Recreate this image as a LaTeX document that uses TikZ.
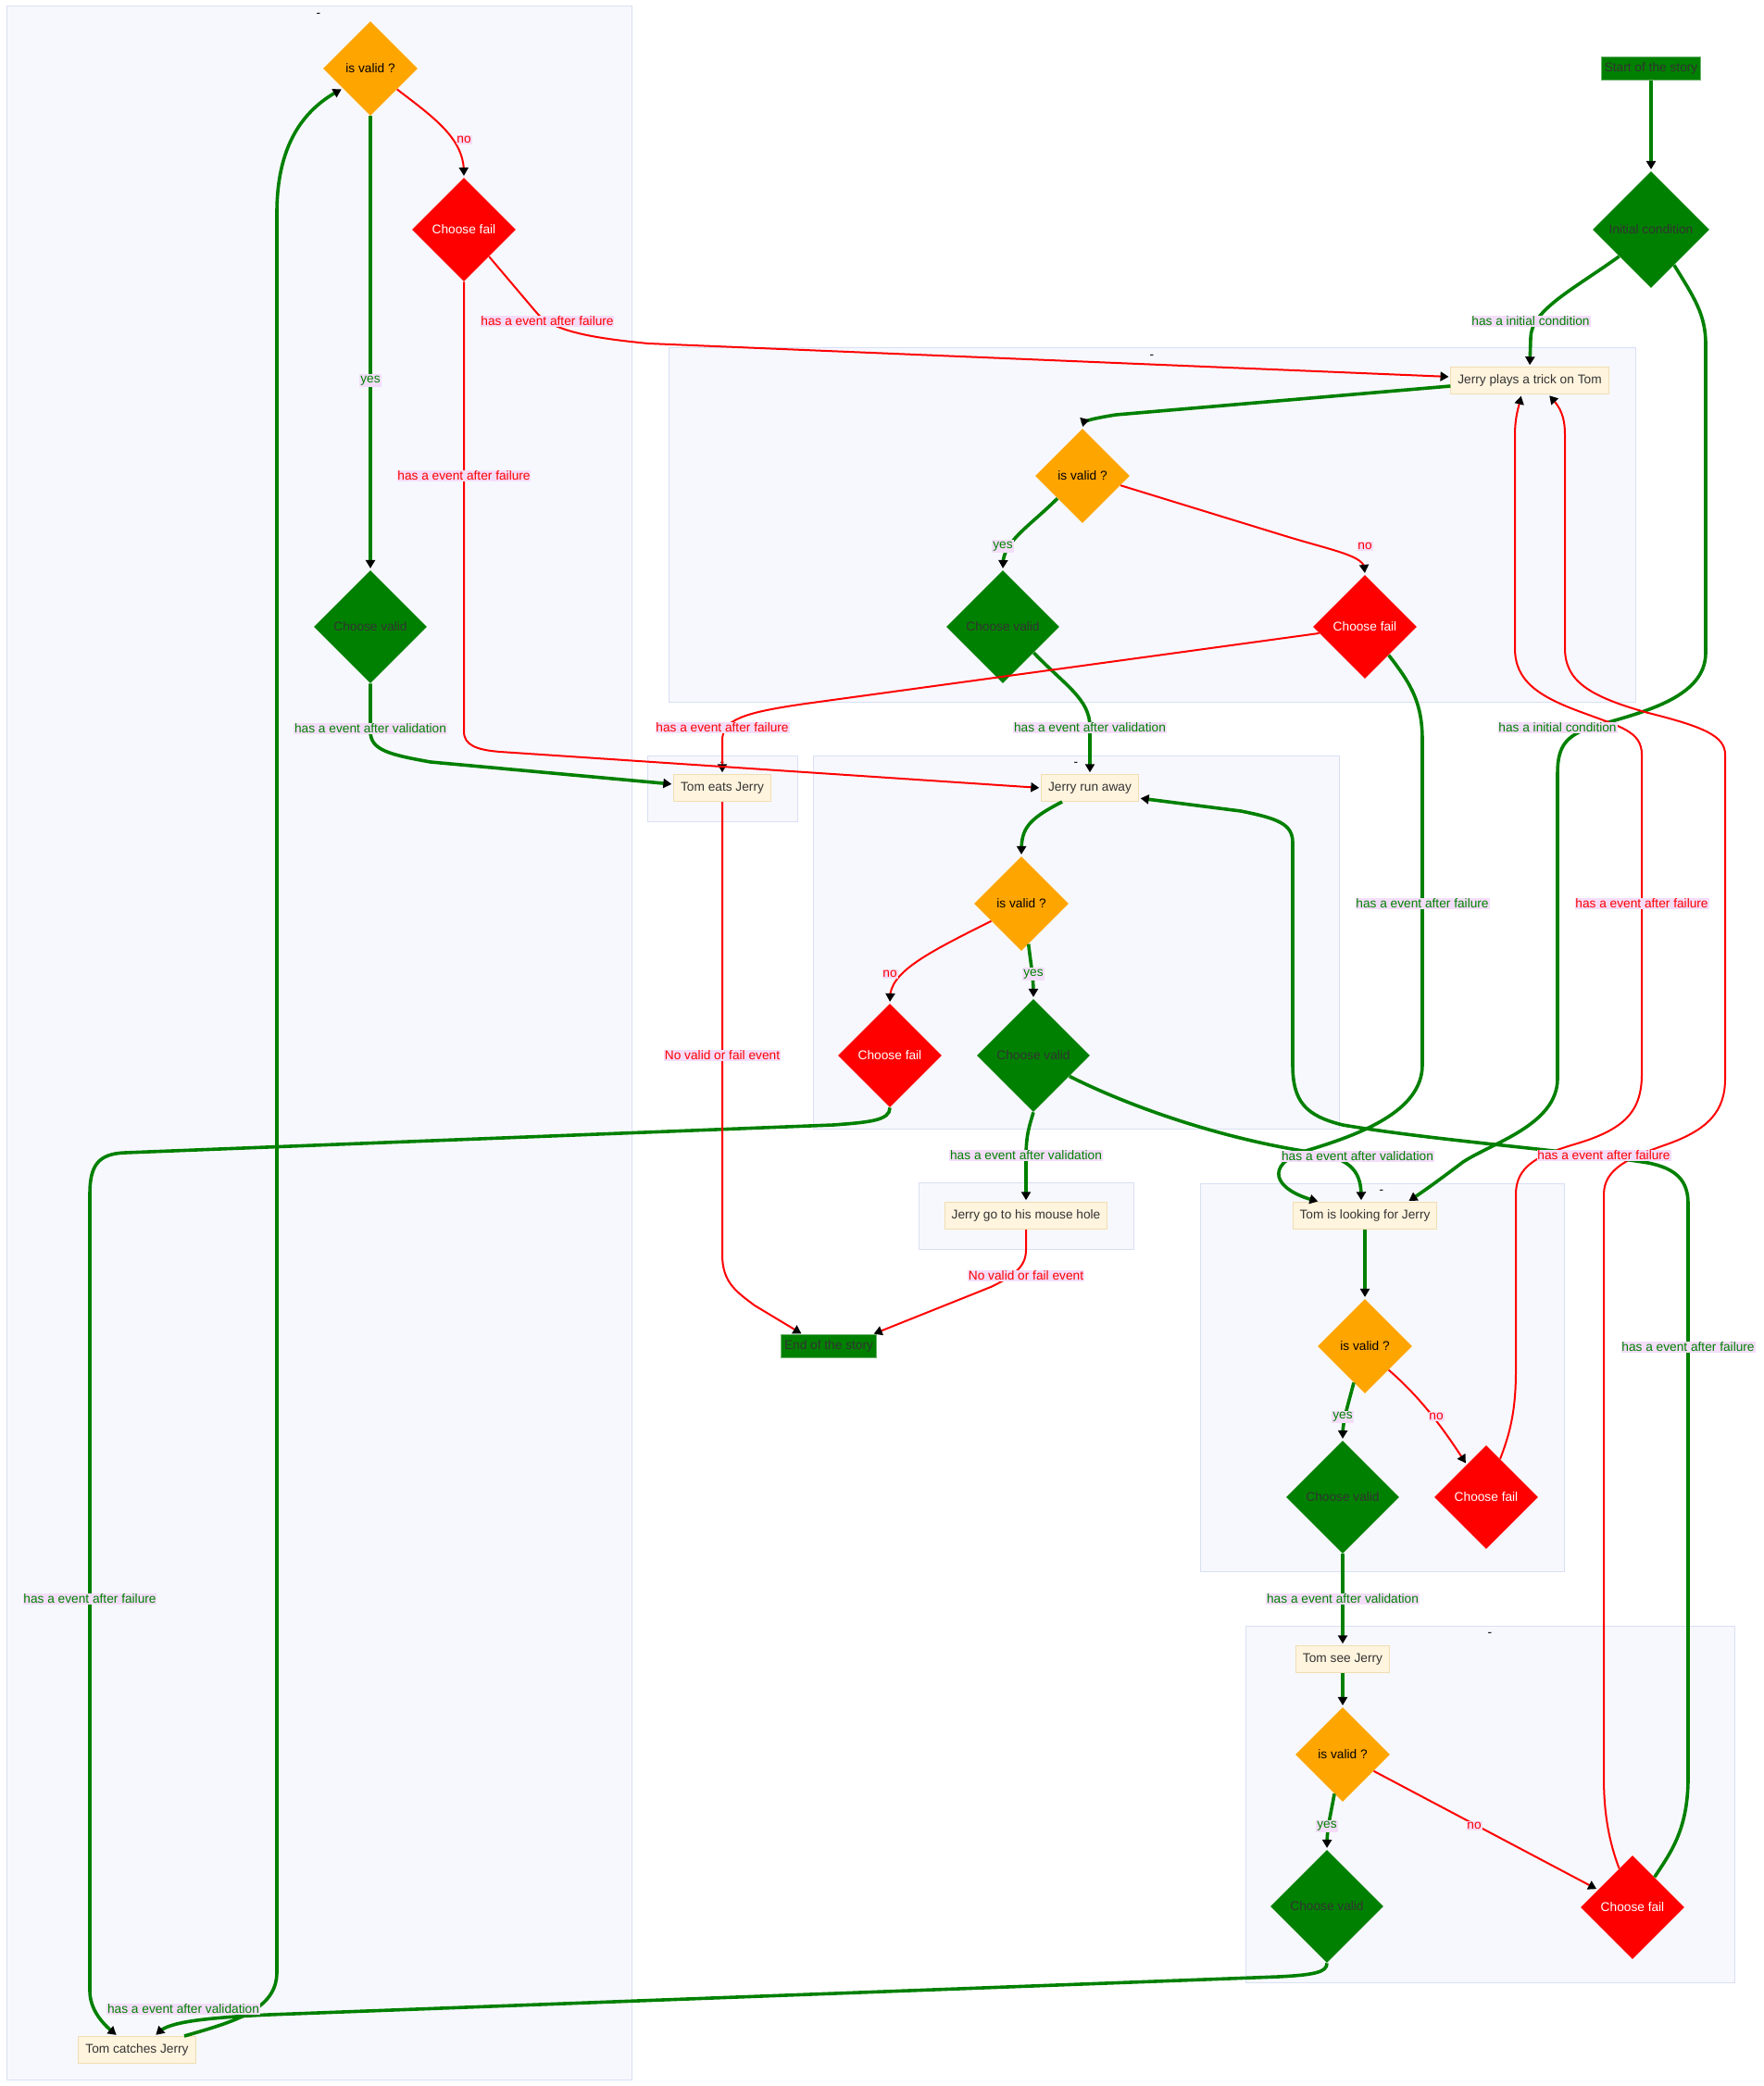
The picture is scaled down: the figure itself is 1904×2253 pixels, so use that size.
\documentclass[tikz,border=0pt]{standalone}
\usepackage{fontspec}
\setmainfont{Liberation Sans}
\usepackage{tikz}
\usetikzlibrary{calc,decorations.markings}
\usetikzlibrary{shapes.geometric}
\usetikzlibrary{arrows.meta}

\definecolor{okgreen}{RGB}{0,128,0}
\definecolor{nored}{RGB}{255,0,0}
\definecolor{askorange}{RGB}{255,165,0}
\definecolor{boxfill}{RGB}{255,244,222}
\definecolor{boxline}{RGB}{240,222,178}
\definecolor{clfill}{RGB}{247,248,253}
\definecolor{clline}{RGB}{216,224,243}
\definecolor{labfill}{RGB}{244,221,250}
\definecolor{darktext}{RGB}{51,51,51}
\definecolor{storyline}{RGB}{110,180,110}

\tikzset{
  every node/.style={font=\fontsize{7.8}{9}\selectfont},
  event/.style={draw=boxline,fill=boxfill,text=darktext,line width=0.02cm,inner xsep=0.15cm,minimum height=0.58cm},
  story/.style={draw=storyline,fill=okgreen,text=darktext,line width=0.02cm,inner xsep=0.07cm,minimum height=0.46cm},
  isvalid/.style={diamond,fill=askorange,text=black,inner sep=0pt,minimum width=2.04cm,minimum height=2.04cm},
  cfail/.style={diamond,fill=nored,text=white,inner sep=0pt,minimum width=2.24cm,minimum height=2.24cm},
  cvalid/.style={diamond,fill=okgreen,text=darktext,inner sep=0pt,minimum width=2.44cm,minimum height=2.44cm},
  initial/.style={diamond,fill=okgreen,text=darktext,inner sep=0pt,minimum width=2.52cm,minimum height=2.52cm},
  cluster/.style={fill=clfill,draw=clline,line width=0.02cm},
  ctitle/.style={text=black,inner sep=0pt},
  vlab/.style={fill=labfill,text=okgreen,inner xsep=0.5pt,inner ysep=0.8pt},
  flab/.style={fill=labfill,text=nored,inner xsep=0.5pt,inner ysep=0.8pt},
  valid/.style={draw=okgreen,line width=0.072cm},
  fail/.style={draw=nored,line width=0.04cm},
  arrowend/.style={shorten >=3pt,postaction={decorate},
    decoration={markings,mark=at position -1pt with {\arrow[black]{Triangle[length=5.1pt,width=5.7pt]}}}}
}

\begin{document}
\begin{tikzpicture}[x=0.02cm,y=-0.02cm]
\path[use as bounding box,fill=white] (0,0) rectangle (1904,2253);

% subgraphs
\draw[cluster] (7,7) rectangle (682,2246);
\draw[cluster] (722,376) rectangle (1766,758);
\draw[cluster] (699,816) rectangle (861,887);
\draw[cluster] (878,816) rectangle (1446,1219);
\draw[cluster] (992,1277) rectangle (1224,1349);
\draw[cluster] (1296,1278) rectangle (1689,1697);
\draw[cluster] (1345,1756) rectangle (1873,2141);
\node[ctitle] (tA) at (344,16) {-};
\node[ctitle] (tB) at (1244,385) {-};
\node[ctitle] (tC) at (780,825) {-};
\node[ctitle] (tD) at (1162,825) {-};
\node[ctitle] (tE) at (1108,1286) {-};
\node[ctitle] (tF) at (1492,1287) {-};
\node[ctitle] (tG) at (1609,1765) {-};

% nodes
\node[story] (start) at (1783,74) {Start of the story};
\node[initial] (init) at (1783,248) {Initial condition};
\node[event] (trick) at (1652,411) {Jerry plays a trick on Tom};
\node[isvalid] (ivB) at (1169,514) {is valid ?};
\node[cvalid] (cvB) at (1083,677) {Choose valid};
\node[cfail] (cfB) at (1474,677) {Choose fail};
\node[event] (eats) at (780,851) {Tom eats Jerry};
\node[event] (run) at (1177,851) {Jerry run away};
\node[isvalid] (ivD) at (1103,976) {is valid ?};
\node[cfail] (cfD) at (961,1140) {Choose fail};
\node[cvalid] (cvD) at (1116,1140) {Choose valid};
\node[event] (hole) at (1108,1313) {Jerry go to his mouse hole};
\node[story] (endst) at (895,1454) {End of the story};
\node[event] (look) at (1474,1313) {Tom is looking for Jerry};
\node[isvalid] (ivF) at (1474,1454) {is valid ?};
\node[cvalid] (cvF) at (1450,1617) {Choose valid};
\node[cfail] (cfF) at (1605,1617) {Choose fail};
\node[event] (see) at (1450,1792) {Tom see Jerry};
\node[isvalid] (ivG) at (1450,1895) {is valid ?};
\node[cvalid] (cvG) at (1433,2059) {Choose valid};
\node[cfail] (cfG) at (1763,2060) {Choose fail};
\node[isvalid] (ivA) at (400,74) {is valid ?};
\node[cfail] (cfA) at (501,248) {Choose fail};
\node[cvalid] (cvA) at (400,677) {Choose valid};
\node[event] (catch) at (148,2214) {Tom catches Jerry};

% connectors
\draw[valid,arrowend] (start.south) -- (init.north);
\draw[valid,arrowend] (init.220) .. controls (1700,312) and (1653,335) .. (1653,365) -- (trick.north);
\draw[valid,arrowend] (init.-57) .. controls (1830,322) and (1842,340) .. (1842,372) -- (1842,705)
  .. controls (1842,755) and (1770,770) .. (1720,785) .. controls (1692,794) and (1682,805) .. (1682,835)
  -- (1682,1165) .. controls (1682,1215) and (1610,1235) .. (1580,1255)
  .. controls (1560,1270) and (1540,1285) .. ($(look.north)+(46,0)$);
\draw[valid,arrowend] ($(trick.west)+(0,6)$) -- (1205,448) .. controls (1180,452) and (1169,455) .. (ivB.north);
\draw[valid,arrowend] (ivB.222) .. controls (1110,570) and (1083,585) .. (cvB.north);
\draw[fail,arrowend] (ivB.-14) -- (1385,578) .. controls (1440,595) and (1474,600) .. (cfB.north);
\draw[valid,arrowend] (cvB.-40) .. controls (1150,740) and (1177,755) .. (1177,785) -- (run.north);
\draw[fail,arrowend] (cfB.188) -- (870,760) .. controls (800,770) and (780,778) .. (780,800) -- (eats.north);
\draw[valid,arrowend] (cfB.-50) .. controls (1525,740) and (1536,760) .. (1536,800) -- (1536,1150)
  .. controls (1536,1200) and (1470,1225) .. (1410,1243)
  .. controls (1365,1258) and (1375,1285) .. ($(look.north)+(-49,0)$);
\draw[valid,arrowend] (cvD.-30) .. controls (1230,1200) and (1330,1232) .. (1420,1245)
  .. controls (1462,1252) and (1470,1268) .. ($(look.north)+(-4,0)$);
\draw[valid,arrowend] ($(run.south)+(-30,0)$) .. controls (1110,885) and (1103,895) .. (ivD.north);
\draw[fail,arrowend] (ivD.210) .. controls (1000,1030) and (961,1050) .. (cfD.north);
\draw[valid,arrowend] (ivD.-80) .. controls (1113,1040) and (1116,1055) .. (cvD.north);
\draw[valid,arrowend] (cfD.south) .. controls (961,1210) and (940,1212) .. (900,1215) -- (135,1245)
  .. controls (105,1246) and (97,1260) .. (97,1290) -- (97,2150)
  .. controls (97,2170) and (110,2185) .. ($(catch.north)+(-21,0)$);
\draw[valid,arrowend] (cvD.south) .. controls (1112,1215) and (1108,1225) .. (1108,1250) -- (hole.north);
\draw[fail,arrowend] (eats.south) -- (780,1355) .. controls (780,1385) and (795,1395) .. (815,1410) -- ($(endst.north)+(-28,0)$);
\draw[fail,arrowend] (hole.south) -- (1108,1350) .. controls (1108,1368) and (1095,1378) .. (1070,1390) -- ($(endst.north)+(47,0)$);
\draw[valid,arrowend] (look.south) -- (ivF.north);
\draw[valid,arrowend] (ivF.253) .. controls (1455,1520) and (1450,1535) .. (cvF.north);
\draw[fail,arrowend] (ivF.-45) .. controls (1535,1510) and (1560,1545) .. (cfF.121);
\draw[valid,arrowend] (cvF.south) -- (see.north);
\draw[valid,arrowend] (see.south) -- (ivG.north);
\draw[valid,arrowend] (ivG.258) .. controls (1437,1960) and (1433,1975) .. (cvG.north);
\draw[fail,arrowend] (ivG.-28) -- (cfG.153);
\draw[valid,arrowend] (cvG.south) .. controls (1433,2130) and (1420,2133) .. (1380,2135) -- (290,2176)
  .. controls (205,2180) and (180,2186) .. ($(catch.north)+(19,0)$);
\draw[valid,arrowend] ($(catch.north)+(51,0)$) .. controls (255,2183) and (299,2170) .. (299,2130) -- (299,230)
  .. controls (299,160) and (325,120) .. (ivA.216);
\draw[valid,arrowend] (ivA.south) -- (cvA.north);
\draw[fail,arrowend] (ivA.-38) .. controls (470,128) and (501,150) .. (cfA.north);
\draw[fail,arrowend] (cfA.-47) -- (578,336) .. controls (595,358) and (640,365) .. (700,371) -- ($(trick.west)+(0,-4)$);
\draw[fail,arrowend] (cfA.south) -- (501,790) .. controls (501,805) and (515,810) .. (540,812) -- (run.west);
\draw[valid,arrowend] (cvA.south) -- (400,790) .. controls (400,810) and (420,815) .. (465,823) -- ($(eats.west)+(0,-4)$);
\draw[fail,arrowend] (cfG.109) .. controls (1738,1990) and (1732,1960) .. (1732,1920) -- (1732,1290)
  .. controls (1732,1262) and (1760,1250) .. (1800,1236) .. controls (1845,1220) and (1863,1200) .. (1863,1165)
  -- (1863,815) .. controls (1863,795) and (1840,785) .. (1780,770)
  .. controls (1715,752) and (1690,735) .. (1690,700) -- (1690,470)
  .. controls (1690,450) and (1685,440) .. ($(trick.south)+(20,0)$);
\draw[fail,arrowend] (cfF.70) .. controls (1632,1545) and (1637,1520) .. (1637,1480) -- (1637,1290)
  .. controls (1637,1260) and (1660,1248) .. (1700,1236) .. controls (1755,1220) and (1773,1200) .. (1773,1160)
  -- (1773,815) .. controls (1773,790) and (1750,785) .. (1710,770)
  .. controls (1660,752) and (1636,735) .. (1636,700) -- (1636,470)
  .. controls (1636,450) and (1640,440) .. ($(trick.south)+(-9,0)$);
\draw[valid,arrowend] (cfG.54) .. controls (1805,2000) and (1823,1975) .. (1823,1920) -- (1823,1300)
  .. controls (1823,1275) and (1810,1262) .. (1780,1256) .. controls (1700,1243) and (1550,1232) .. (1450,1215)
  .. controls (1410,1205) and (1396,1190) .. (1396,1150) -- (1396,910)
  .. controls (1396,890) and (1380,884) .. (1340,876) -- ($(run.east)+(0,11)$);

% edge labels
\node[vlab] (l1) at (1653,347) {has a initial condition};
\node[vlab] (l2) at (1682,786) {has a initial condition};
\node[vlab] (l3) at (1083,590) {yes};
\node[flab] (l4) at (1474,590) {no};
\node[vlab] (l5) at (1177,786) {has a event after validation};
\node[flab] (l6) at (780,786) {has a event after failure};
\node[vlab] (l7) at (1536,976) {has a event after failure};
\node[flab] (l8) at (1773,976) {has a event after failure};
\node[flab] (l9) at (961,1052) {no};
\node[vlab] (l10) at (1116,1052) {yes};
\node[flab] (l11) at (780,1140) {No valid or fail event};
\node[vlab] (l12) at (1108,1248) {has a event after validation};
\node[vlab] (l13) at (1466,1249) {has a event after validation};
\node[flab] (l14) at (1732,1248) {has a event after failure};
\node[flab] (l15) at (1108,1378) {No valid or fail event};
\node[vlab] (l16) at (1450,1530) {yes};
\node[flab] (l17) at (1551,1530) {no};
\node[vlab] (l18) at (1450,1727) {has a event after validation};
\node[vlab] (l19) at (1823,1455) {has a event after failure};
\node[vlab] (l20) at (1433,1972) {yes};
\node[flab] (l21) at (1592,1972) {no};
\node[vlab] (l22) at (97,1727) {has a event after failure};
\node[vlab] (l23) at (198,2170) {has a event after validation};
\node[flab] (l24) at (501,151) {no};
\node[vlab] (l25) at (400,411) {yes};
\node[flab] (l26) at (591,347) {has a event after failure};
\node[flab] (l27) at (501,514) {has a event after failure};
\node[vlab] (l28) at (400,787) {has a event after validation};
\end{tikzpicture}
\end{document}
